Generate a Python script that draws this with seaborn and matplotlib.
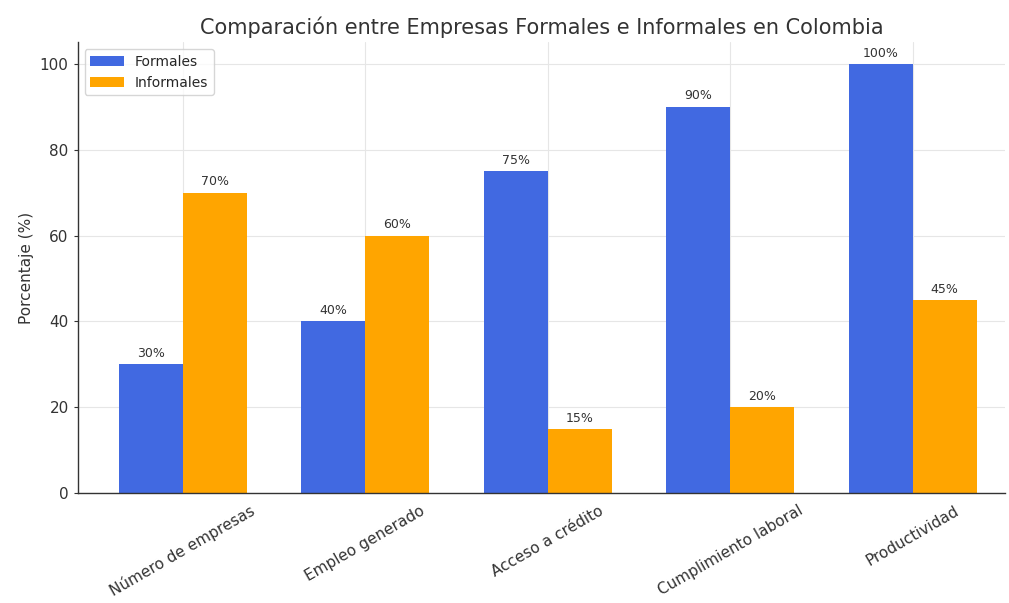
import pandas as pd
import matplotlib
matplotlib.use("Agg")
import matplotlib.pyplot as plt
import seaborn as sns

categorias = ["Número de empresas", "Empleo generado", "Acceso a crédito",
              "Cumplimiento laboral", "Productividad"]
formales = [30, 40, 75, 90, 100]
informales = [70, 60, 15, 20, 45]

df = pd.DataFrame({
    "categoria": categorias * 2,
    "valor": formales + informales,
    "tipo": ["Formales"] * len(categorias) + ["Informales"] * len(categorias),
})

sns.set_style("whitegrid")
plt.rcParams['font.family'] = ['DejaVu Sans']

fig, ax = plt.subplots(figsize=(10.09, 6.03), dpi=100)
sns.barplot(data=df, x="categoria", y="valor", hue="tipo",
            palette={"Formales": "royalblue", "Informales": "orange"},
            width=0.7, gap=0, saturation=1, linewidth=0, ax=ax)

for cont in ax.containers:
    ax.bar_label(cont, labels=[f"{int(v)}%" for v in cont.datavalues],
                 padding=3, fontsize=9, color="#333333")

ax.set_ylim(0, 105)
ax.set_xlim(-0.575, 4.505)
ax.set_xlabel("")
ax.set_ylabel("Porcentaje (%)", fontsize=11, color="#333333")
ax.set_title("Comparación entre Empresas Formales e Informales en Colombia",
             fontsize=15, color="#333333")
ax.tick_params(axis="x", labelsize=11, colors="#333333")
ax.tick_params(axis="y", labelsize=11, colors="#333333", left=True, length=3)
for lbl in ax.get_xticklabels():
    lbl.set_rotation(30)
    lbl.set_ha("center")
ax.grid(True, color="#e6e6e6", linewidth=0.8)
ax.set_axisbelow(True)
for s in ["top", "right"]:
    ax.spines[s].set_visible(False)
for s in ["left", "bottom"]:
    ax.spines[s].set_color("#333333")
    ax.spines[s].set_linewidth(1)

ax.legend(title=None, loc="upper left", fontsize=10, handlelength=2.4,
          frameon=True)

fig.subplots_adjust(left=0.077, right=0.996, top=0.930, bottom=0.182)
fig.savefig("out.png", dpi=100)
